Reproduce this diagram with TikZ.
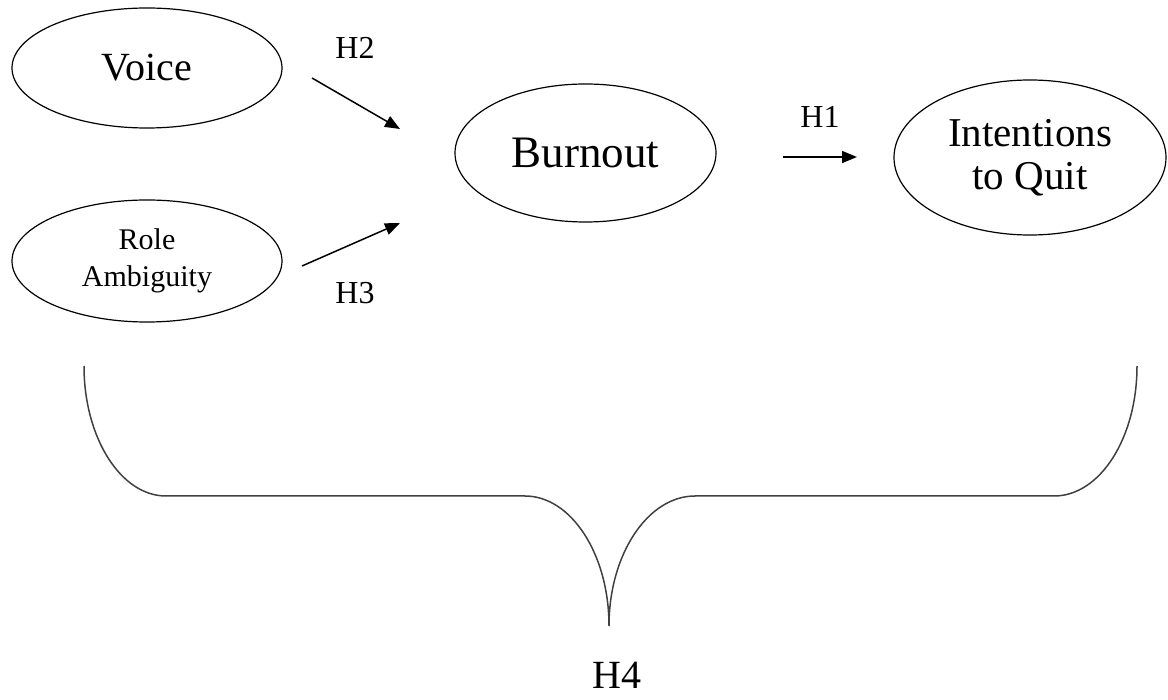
\documentclass[tikz,border=0pt]{standalone}
\usepackage{fontspec}
\setmainfont{Liberation Serif}
\usetikzlibrary{shapes.geometric,arrows.meta}
\begin{document}
\begin{tikzpicture}[x=1pt,y=-1pt,
  oval/.style={draw=black,line width=1.2pt,ellipse,inner sep=0pt,align=center,text=black},
  arr/.style={draw=black,line width=1.5pt,-{Triangle[length=15pt,width=12pt]}},
  hlab/.style={font=\fontsize{32}{36}\selectfont,inner sep=0pt},
  bracepath/.style={draw=black!75,line width=1.5pt}]
\useasboundingbox (0,0) rectangle (1168,700);
% ellipses
\node[oval,minimum width=270pt,minimum height=120pt,font=\fontsize{40}{44}\selectfont] (voice) at (147,68) {Voice};
\node[oval,minimum width=270pt,minimum height=122pt,font=\fontsize{30}{37}\selectfont] (role) at (147,261) {Role\\Ambiguity};
\node[oval,minimum width=261pt,minimum height=138pt,font=\fontsize{45}{50}\selectfont] (burn) at (585.5,153) {Burnout};
\node[oval,minimum width=272pt,minimum height=155pt,font=\fontsize{41}{43}\selectfont] (quit) at (1030,157.5) {Intentions\\to Quit};
% arrows
\coordinate (h2s) at (312,78);
\coordinate (h2e) at (400,129);
\coordinate (h3s) at (302,266);
\coordinate (h3e) at (400,223);
\coordinate (h1s) at (783,157);
\coordinate (h1e) at (857,157);
\draw[arr] (h2s) -- (h2e);
\draw[arr] (h3s) -- (h3e);
\draw[arr] (h1s) -- (h1e);
% labels
\node[hlab] (lh2) at (355,48) {H2};
\node[hlab] (lh3) at (355,293) {H3};
\node[hlab] (lh1) at (820,117) {H1};
\node[font=\fontsize{40}{44}\selectfont,inner sep=0pt] (lh4) at (617,675) {H4};
% brace
\coordinate (bl) at (84,366);
\coordinate (bl2) at (166,496);
\coordinate (bm1) at (525,496);
\coordinate (tip) at (609,626);
\coordinate (bm2) at (695,496);
\coordinate (br2) at (1054,496);
\coordinate (br) at (1137,366);
\draw[bracepath] (bl) .. controls (84,438) and (121,496) .. (bl2)
  -- (bm1) .. controls (571,496) and (609,554) .. (tip)
  .. controls (609,554) and (648,496) .. (bm2)
  -- (br2) .. controls (1100,496) and (1137,438) .. (br);
\end{tikzpicture}
\end{document}
